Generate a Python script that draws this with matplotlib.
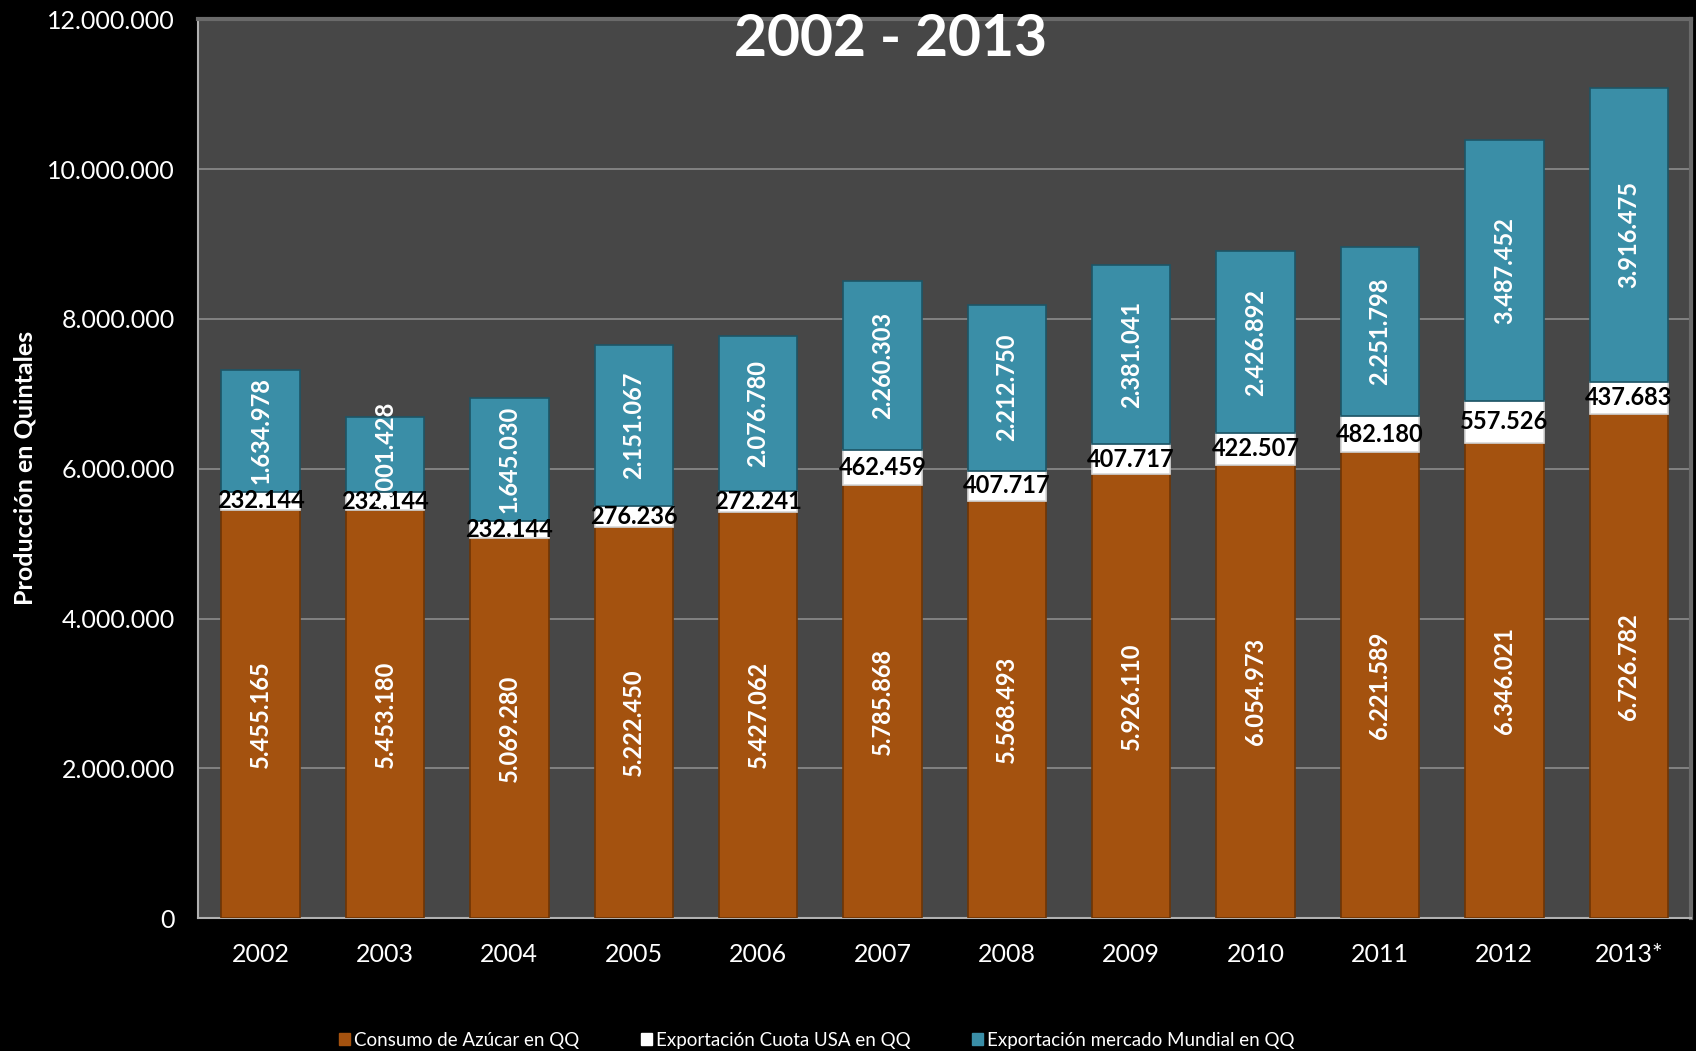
import matplotlib
matplotlib.use("Agg")
import matplotlib.pyplot as plt
from matplotlib.patches import Patch
import numpy as np

plt.rcParams['font.family'] = ['Lato', 'DejaVu Sans']

years = ['2002', '2003', '2004', '2005', '2006', '2007', '2008', '2009',
         '2010', '2011', '2012', '2013*']
consumo = [5455165, 5453180, 5069280, 5222450, 5427062, 5785868, 5568493,
           5926110, 6054973, 6221589, 6346021, 6726782]
cuota_usa = [232144, 232144, 232144, 276236, 272241, 462459, 407717,
             407717, 422507, 482180, 557526, 437683]
mundial = [1634978, 1001428, 1645030, 2151067, 2076780, 2260303, 2212750,
           2381041, 2426892, 2251798, 3487452, 3916475]
yticks = [0, 2000000, 4000000, 6000000, 8000000, 10000000, 12000000]

ORANGE = '#a4520f'
BLUE = '#3a8ea7'
WHITE = '#ffffff'


def fmt(v):
    return f"{v:,}".replace(',', '.')


fig = plt.figure(figsize=(16.96, 10.51), dpi=100, facecolor='black')
ax = fig.add_axes([0.117, 0.1265, 0.880, 0.855])
ax.set_facecolor('#474747')

x = np.arange(len(years))
w = 0.63
c = np.array(consumo)
u = np.array(cuota_usa)
m = np.array(mundial)

ax.bar(x, c, w, color=ORANGE, edgecolor='#6e3505', linewidth=1.2, zorder=3)
ax.bar(x, u, w, bottom=c, color=WHITE, edgecolor='#d8d8d8', linewidth=1.2, zorder=3)
ax.bar(x, m, w, bottom=c + u, color=BLUE, edgecolor='#1d5566', linewidth=1.2, zorder=3)

for i in range(len(years)):
    ax.text(x[i], c[i] / 2, fmt(consumo[i]), rotation=90, ha='center', va='center',
            color='white', fontsize=17, fontweight='bold', zorder=5)
    ax.text(x[i], c[i] + u[i] / 2, fmt(cuota_usa[i]), ha='center', va='center',
            color='black', fontsize=17, fontweight='bold', zorder=5)
    ax.text(x[i], c[i] + u[i] + m[i] / 2, fmt(mundial[i]), rotation=90, ha='center',
            va='center', color='white', fontsize=17, fontweight='bold', zorder=5)

ax.set_xlim(-0.5, len(years) - 0.5)
ax.set_ylim(0, 12000000)
ax.set_yticks(yticks)
ax.set_yticklabels([fmt(v) for v in yticks])
ax.set_xticks(x)
ax.set_xticklabels(years)
ax.tick_params(colors='white', labelsize=18, length=0)
ax.tick_params(axis='y', pad=17)
ax.tick_params(axis='x', pad=18)
ax.yaxis.grid(True, color='#8c8c8c', linewidth=1.2, zorder=1)
ax.set_axisbelow(True)

for side in ['left', 'bottom']:
    ax.spines[side].set_color('#b0b0b0')
    ax.spines[side].set_linewidth(1.5)
for side in ['top', 'right']:
    ax.spines[side].set_color('#6a6a6a')
    ax.spines[side].set_linewidth(3)

fig.text(0.525, 0.962, '2002 - 2013', ha='center', va='center', color='white',
         fontsize=41, fontweight='bold')
fig.text(0.015, 0.555, 'Producción en Quintales', rotation=90, ha='center',
         va='center', color='white', fontsize=18, fontweight='bold')

handles = [Patch(facecolor=ORANGE, edgecolor=ORANGE),
           Patch(facecolor=WHITE, edgecolor=WHITE),
           Patch(facecolor=BLUE, edgecolor=BLUE)]
labels = ['Consumo de Azúcar en QQ', 'Exportación Cuota USA en QQ',
          'Exportación mercado Mundial en QQ']
fig.legend(handles, labels, loc='lower center', bbox_to_anchor=(0.4815, -0.014),
           ncol=3, frameon=False, labelcolor='white', fontsize=13.5,
           handlelength=0.6, handleheight=0.6, handletextpad=0.2, columnspacing=3.3)

fig.savefig('out.png', dpi=100, facecolor='black')
